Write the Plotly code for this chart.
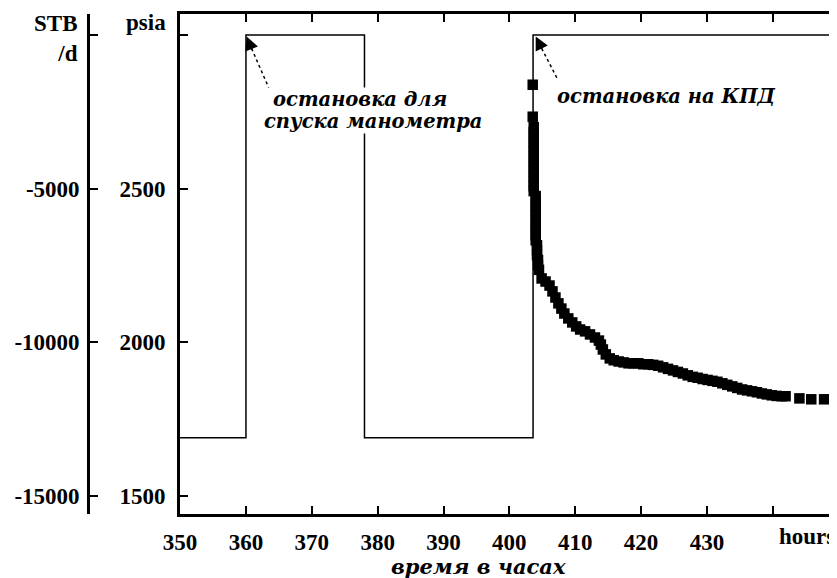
import plotly.graph_objects as go

# ---- data ----
rate_hours = [350, 360, 378, 403.6, 449]
rate_stbd = [-13100, 0, -13100, 0, 0]

p_hours = [403.55, 403.55,
           403.7, 403.7, 403.7, 403.7, 403.7, 403.7, 403.7, 403.7, 403.7, 403.7, 403.7, 403.7, 403.7, 403.7,
           404.0, 404.0, 404.0, 404.0, 404.0, 404.0, 404.0, 404.0, 404.0, 404.0,
           404.2, 404.2, 404.2, 404.35, 404.35, 404.5,
           404.9, 405.5, 406.1, 406.55, 407.0, 407.45, 407.9, 408.35, 408.95, 409.55,
           410.15, 410.75, 411.5, 412.25, 413.0, 413.6, 413.9, 414.2, 414.65, 415.25,
           415.85, 416.6, 417.35, 418.1, 418.85, 419.6, 420.35, 421.1, 421.85, 422.6,
           423.35, 424.1, 424.85, 425.6, 426.35, 427.1, 427.85, 428.6, 429.35, 430.1,
           430.85, 431.6, 432.35, 433.1, 433.85, 434.6, 435.35, 436.1, 436.85, 437.6,
           438.35, 439.1, 439.85, 440.6, 441.35, 441.95,
           444.05, 445.85, 447.8]
p_psia = [2838, 2734,
          2700, 2684, 2668, 2652, 2636, 2620, 2604, 2588, 2572, 2556, 2540, 2524, 2508, 2492,
          2476, 2460, 2444, 2428, 2412, 2396, 2380, 2364, 2348, 2332,
          2316, 2300, 2284, 2268, 2252, 2236,
          2208, 2198, 2185, 2166, 2146, 2127, 2110, 2094, 2078, 2065,
          2052, 2042, 2036, 2026, 2016, 2006, 1993, 1977, 1961, 1948,
          1942, 1938, 1935, 1932, 1932, 1932, 1929, 1929, 1927, 1924,
          1919, 1914, 1909, 1904, 1899, 1893, 1888, 1885, 1881, 1878,
          1875, 1872, 1867, 1862, 1857, 1852, 1847, 1844, 1841, 1838,
          1834, 1831, 1828, 1826, 1825, 1825,
          1818, 1815, 1815]

x_ticks = [350, 360, 370, 380, 390, 400, 410, 420, 430, 440]
x_ticktext = ["350", "360", "370", "380", "390", "400", "410", "420", "430", ""]
psia_ticks = [3000, 2500, 2000, 1500]
psia_ticktext = ["", "2500", "2000", "1500"]
stb_ticks = [0, -5000, -10000, -15000]
stb_ticktext = ["", "-5000", "-10000", "-15000"]

TICKFONT = dict(family="Liberation Serif", size=23, color="black", weight="bold")
NOTEFONT = dict(family="DejaVu Serif", size=19.5, color="black", weight="bold", style="italic")

fig = go.Figure()
fig.add_trace(go.Scatter(x=rate_hours, y=rate_stbd, yaxis="y2", mode="lines",
                         line=dict(color="black", width=1.5, shape="hv"),
                         showlegend=False, hoverinfo="skip"))
fig.add_trace(go.Scatter(x=p_hours, y=p_psia, mode="markers",
                         marker=dict(symbol="square", size=10.5, color="black", line=dict(width=0)),
                         showlegend=False))

fig.update_layout(
    width=829, height=570,
    margin=dict(l=12, r=2, t=6, b=64),
    paper_bgcolor="white", plot_bgcolor="white",
    xaxis=dict(domain=[0.1902, 1], range=[350, 449], tickvals=x_ticks, ticktext=x_ticktext,
               ticks="inside", ticklen=8, tickwidth=1.5, tickcolor="black",
               showline=True, linewidth=3, linecolor="black", mirror="ticks",
               showgrid=False, zeroline=False, tickfont=TICKFONT, ticklabelstandoff=5),
    yaxis=dict(range=[1442, 3068], tickvals=psia_ticks, ticktext=psia_ticktext,
               ticks="inside", ticklen=8, tickwidth=1.5, tickcolor="black",
               showline=True, linewidth=3, linecolor="black", mirror=True,
               showgrid=False, zeroline=False, tickfont=TICKFONT, ticklabelstandoff=7),
    yaxis2=dict(range=[-15584, 682], tickvals=stb_ticks, ticktext=stb_ticktext,
                overlaying="y", side="left", anchor="free", position=0.0760,
                ticks="inside", ticklen=8, tickwidth=1.5, tickcolor="black",
                showline=True, linewidth=3, linecolor="black",
                showgrid=False, zeroline=False, tickfont=TICKFONT, ticklabelstandoff=3),
)

ann = []
# axis unit labels
ann.append(dict(text="STB<br>/d", xref="paper", yref="y2", x=0.0760, y=0, xanchor="right",
                xshift=-8, yshift=-4, yanchor="middle", showarrow=False, align="right", font=TICKFONT))
ann.append(dict(text="psia", xref="paper", yref="y", x=0.1902, y=3000, xanchor="right",
                xshift=-12, yshift=12, yanchor="middle", showarrow=False, font=TICKFONT))
ann.append(dict(text="hours", xref="x", yref="paper", x=445.2, y=0, yanchor="top",
                yshift=-8, showarrow=False, font=TICKFONT))
ann.append(dict(text="время в часах", xref="paper", yref="paper", x=0.561, y=0, yanchor="top",
                yshift=-38, showarrow=False,
                font=dict(family="DejaVu Serif", size=21, color="black", weight="bold", style="italic")))
# notes
ann.append(dict(text="остановка для", xref="x", yref="y", x=363.9, y=2789,
                xanchor="left", yanchor="middle", showarrow=False,
                bgcolor="white", borderpad=0, font=NOTEFONT))
ann.append(dict(text="спуска манометра", xref="x", yref="y", x=362.6, y=2718,
                xanchor="left", yanchor="middle", showarrow=False,
                bgcolor="white", borderpad=0, font=NOTEFONT))
ann.append(dict(text="остановка на КПД", xref="x", yref="y", x=407.0, y=2799,
                xanchor="left", yanchor="middle", showarrow=False, font=NOTEFONT))
# arrowheads
ann.append(dict(text="", x=360.1, y=2995, xref="x", yref="y", showarrow=True, ax=6, ay=15,
                arrowhead=2, arrowsize=1.8, arrowwidth=1.5, arrowcolor="black", standoff=0))
ann.append(dict(text="", x=404.0, y=2995, xref="x", yref="y", showarrow=True, ax=7, ay=14,
                arrowhead=2, arrowsize=1.8, arrowwidth=1.5, arrowcolor="black", standoff=0))
fig.update_layout(annotations=ann)

# dotted arrow shafts
fig.add_shape(type="line", xref="x", yref="y", xsizemode="pixel", ysizemode="pixel",
              xanchor=360.1, yanchor=2995, x0=5, y0=-12, x1=22, y1=-51,
              line=dict(color="black", width=1.5, dash="dot"))
fig.add_shape(type="line", xref="x", yref="y", xsizemode="pixel", ysizemode="pixel",
              xanchor=404.0, yanchor=2995, x0=6, y0=-12, x1=22, y1=-43,
              line=dict(color="black", width=1.5, dash="dot"))

fig.write_html("out.html")
